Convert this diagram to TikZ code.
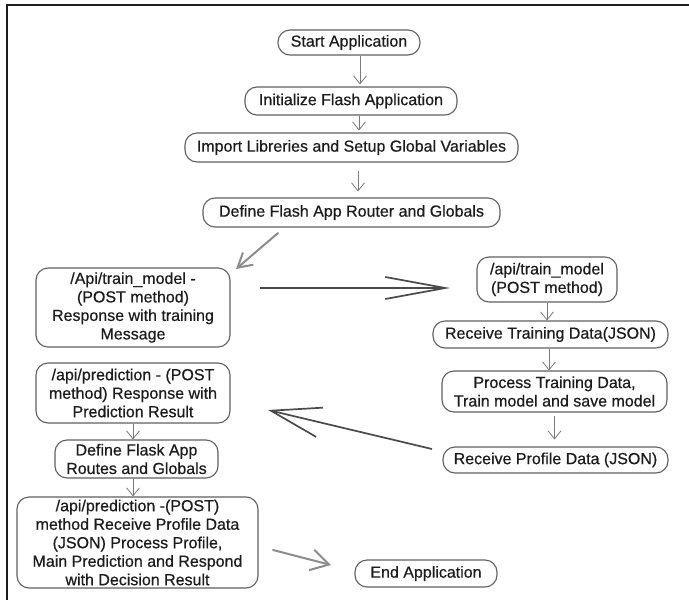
\documentclass[tikz,border=0pt]{standalone}
\usepackage{fontspec}
\setmainfont{Liberation Sans}
\newfontfamily\boxfont{Liberation Sans}[FakeBold=0.5]
\usetikzlibrary{arrows.meta}

\definecolor{framecol}{HTML}{1E1E1E}
\definecolor{boxcol}{HTML}{606060}
\definecolor{txtcol}{HTML}{1C1C1C}
\definecolor{linkcol}{HTML}{7A7A7A}
\definecolor{bigcol}{HTML}{4A4A4A}
\definecolor{softcol}{HTML}{8C8C8C}

\tikzset{
  box/.style={draw=boxcol, line width=1.1pt, rounded corners=12pt, align=center,
    inner sep=0pt, text=txtcol, font=\boxfont\fontsize{16}{18.5}\selectfont},
  link/.style={draw=linkcol, line width=0.8pt, -{Straight Barb[length=8pt,width=13pt]}},
  bigarrow/.style={draw=bigcol, line width=1.7pt},
  softarrow/.style={draw=softcol, line width=2pt, line cap=round}
}

\begin{document}
\begin{tikzpicture}[x=1pt, y=-1pt]
\useasboundingbox (0,0) rectangle (689,600);
\fill[white] (0,0) rectangle (689,600);

% frame
\draw[framecol, line width=2.2pt] (689,5) -- (7,5) -- (7,600);

% main column
\node[box, minimum width=142pt, minimum height=25pt] (start) at (349,42.5) {Start Application};
\node[box, minimum width=212pt, minimum height=28pt] (init) at (351,101) {Initialize Flash Application};
\node[box, minimum width=333pt, minimum height=29pt] (import) at (351.5,147.5) {Import Libreries and Setup Global Variables};
\node[box, minimum width=297pt, minimum height=29pt] (define) at (351.5,212.5) {Define Flash App Router and Globals};

% left column
\node[box, minimum width=194pt, minimum height=79pt] (trainL) at (133,307.5)
  {/Api/train\_model -\\(POST method)\\Response with training\\Message};
\node[box, minimum width=194pt, minimum height=60pt] (predL) at (133,393)
  {/api/prediction - (POST\\method) Response with\\Prediction Result};
\node[box, minimum width=163pt, minimum height=38pt] (flaskL) at (136.5,459)
  {Define Flask App\\Routes and Globals};
\node[box, minimum width=241pt, minimum height=91pt] (predict) at (137.5,542.5)
  {/api/prediction -(POST)\\method  Receive Profile Data\\(JSON) Process Profile,\\Main Prediction and Respond\\with Decision Result};

% right column
\node[box, minimum width=140pt, minimum height=45pt] (trainR) at (547,279.5)
  {/api/train\_model\\(POST method)};
\node[box, minimum width=235pt, minimum height=27pt] (recvT) at (550.5,334.5) {Receive Training Data(JSON)};
\node[box, minimum width=225pt, minimum height=41pt] (proc) at (554.5,391.5)
  {Process Training Data,\\Train model and save model};
\node[box, minimum width=225pt, minimum height=26pt] (recvP) at (555.5,460) {Receive Profile Data (JSON)};
\node[box, minimum width=142pt, minimum height=27pt] (finish) at (426,573.5) {End Application};

% straight links
\draw[link] ([xshift=11pt]start.south) -- ([xshift=9pt,yshift=2pt]init.north);
\draw[link] ([xshift=8pt]init.south) -- ([xshift=7.5pt,yshift=2pt]import.north);
\draw[link, shorten <=8pt, shorten >=6pt] ([xshift=6.5pt]import.south) -- ([xshift=6.5pt]define.north);
\draw[link] (trainR.south) -- (trainR.south |- recvT.north);
\draw[link] ([xshift=-1.5pt]recvT.south) -- ([xshift=-1.5pt]recvT.south |- proc.north);
\draw[link, shorten <=3pt, shorten >=7pt] (proc.south) -- (proc.south |- recvP.north);
\draw[link] (predL.south) -- (predL.south |- flaskL.north);
\draw[link] (predL.south |- flaskL.south) -- (predL.south |- predict.north);

% free-standing arrows between the columns
\coordinate (routeA) at (278,233);
\coordinate (routeB) at (236,269);
\coordinate (trainA) at (260,288);
\coordinate (trainB) at (450,288);
\coordinate (backA) at (432,449);
\coordinate (backB) at (268,410);
\coordinate (endA) at (273,550);
\coordinate (endB) at (331,565);

\draw[softarrow, -{Straight Barb[length=14pt,width=16pt]}] (routeA) -- (routeB);
\draw[bigarrow, -{Straight Barb[length=60pt,width=22pt]}] (trainA) -- (trainB);
\draw[bigarrow, -{Straight Barb[length=50pt,width=30pt]}] (backA) -- (backB);
\draw[softarrow, -{Straight Barb[length=18pt,width=21pt]}] (endA) -- (endB);
\end{tikzpicture}
\end{document}
